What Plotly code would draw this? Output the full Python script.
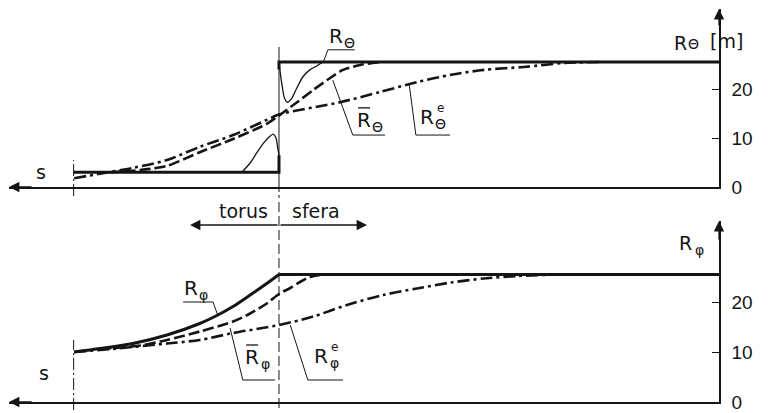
import plotly.graph_objects as go

# the page body keeps its 8px margin, so the figure is 8px smaller and all
# pixel placements below are given in window pixels and shifted by OFF
OFF = 8
W, H = 768 - OFF, 413 - OFF
INK = "#151515"
FONT = "DejaVu Sans"

# meridian coordinate s [m], counted leftwards from the R axis; radii R [m]
s_start = 132.0      # left end of the torus part
s_joint = 90.0       # torus | sphere junction
R_sph = 25.5         # sphere radius

# ---- upper panel: R_theta ----
s_Rt = [132.0, 90.0, 90.0, None, 90.0, 90.0, 0.0]
Rt = [3.0, 3.0, 6.5, None, 24.0, 25.5, 25.5]
s_Rt_lo = [97.6, 95.9, 94.6, 93.2, 91.8, 91.2, 90.6, 90.3, 90.0]
Rt_lo = [3.0, 4.9, 6.9, 8.9, 10.4, 10.8, 10.0, 8.2, 6.5]
s_Rt_hi = [90.0, 89.7, 89.3, 88.9, 88.3, 87.4, 86.4, 85.1, 83.7, 82.3, 81.0]
Rt_hi = [25.5, 23.0, 20.3, 18.2, 17.3, 18.1, 20.1, 22.5, 23.9, 24.7, 25.5]
s_Rt_bar = [124.6, 119.9, 116.4, 112.9, 106.2, 99.4, 92.5, 90.0, 86.3, 83.0, 79.6, 76.9, 73.4, 69.3]
Rt_bar = [3.0, 3.3, 3.7, 4.3, 7.1, 9.8, 12.9, 14.6, 17.3, 19.8, 22.2, 23.9, 24.9, 25.5]
s_Rt_e = [131.9, 126.6, 119.9, 112.9, 106.2, 99.4, 92.5, 90.0, 77.5, 69.3, 61.8, 54.8, 48.1, 39.9, 31.7, 24.3]
Rt_e = [1.8, 2.7, 3.9, 5.5, 8.2, 10.6, 13.7, 14.8, 17.3, 19.4, 21.4, 22.9, 23.9, 24.5, 25.3, 25.5]

# ---- lower panel: R_phi ----
s_Rp = [131.9, 126.6, 119.9, 112.9, 106.2, 102.7, 99.4, 95.9, 92.5, 90.0]
Rp = [10.0, 10.7, 11.7, 13.4, 15.7, 17.3, 19.1, 21.4, 23.7, 25.5]
s_Rp_sph = [90.0, 0.0]
Rp_sph = [25.5, 25.5]
s_Rp_bar = [126.6, 118.4, 112.9, 106.2, 99.4, 95.9, 92.5, 90.0, 87.7, 85.7, 83.7, 81.6, 79.6]
Rp_bar = [10.6, 11.3, 12.4, 14.1, 16.1, 17.7, 19.7, 21.6, 22.8, 24.0, 25.0, 25.4, 25.5]
s_Rp_e = [131.9, 126.6, 119.9, 112.9, 106.2, 99.4, 90.0, 83.0, 76.1, 68.7, 61.8, 54.8, 48.1, 41.3, 32.5]
Rp_e = [10.0, 10.4, 11.0, 11.7, 12.4, 13.8, 15.4, 17.1, 19.4, 21.4, 22.7, 23.9, 24.7, 25.2, 25.5]

y_ticks = [0, 10, 20]

# label anchors (s, R) and leader polylines
lab_Rt = (78.3, 30.8); lead_Rt = ([81.0, 80.0, 74.5], [25.3, 28.0, 28.0])
lab_Rt_bar = (72.6, 13.7); lead_Rt_bar = ([79.0, 74.9, 68.3], [21.8, 10.6, 10.6])
lab_Rt_e = (59.7, 14.3); lead_Rt_e = ([63.4, 62.0, 55.0], [21.2, 10.6, 10.6])
lab_Rp = (108.0, 22.9); lead_Rp = ([109.6, 103.5, 102.5], [20.0, 20.0, 17.3])
lab_Rp_bar = (95.5, 9.0); lead_Rp_bar = ([100.0, 97.4, 90.8], [14.8, 4.4, 4.4])
lab_Rp_e = (81.4, 9.2); lead_Rp_e = ([87.7, 84.1, 76.9], [15.4, 4.4, 4.4])


def px(p):
    return (p - OFF) / W


def py(p):
    return 1 - (p - OFF) / H


fig = go.Figure()


def line(x, y, axes, width=3, dash="solid", shape="spline"):
    fig.add_trace(go.Scatter(
        x=x, y=y, xaxis=axes[0], yaxis=axes[1], mode="lines",
        line=dict(color=INK, width=width, dash=dash, shape=shape, smoothing=0.8),
        hoverinfo="skip", showlegend=False))


TOP, BOT = ("x", "y"), ("x2", "y2")
DASH = "11px,4px"
DASHDOT = "12px,4px,3px,4px"

line(s_Rt, Rt, TOP, shape="linear")
line(s_Rt_lo, Rt_lo, TOP, width=1.3)
line(s_Rt_hi, Rt_hi, TOP, width=1.3)
line(s_Rt_bar, Rt_bar, TOP, width=2.6, dash=DASH)
line(s_Rt_e, Rt_e, TOP, width=2.6, dash=DASHDOT)

line(s_Rp, Rp, BOT)
line(s_Rp_sph, Rp_sph, BOT, shape="linear")
line(s_Rp_bar, Rp_bar, BOT, width=2.6, dash=DASH)
line(s_Rp_e, Rp_e, BOT, width=2.6, dash=DASHDOT)

for lead, ax in [(lead_Rt, TOP), (lead_Rt_bar, TOP), (lead_Rt_e, TOP),
                 (lead_Rp, BOT), (lead_Rp_bar, BOT), (lead_Rp_e, BOT)]:
    line(lead[0], lead[1], ax, width=1, shape="linear")

annotations = []
shapes = []


def symbol(pos, yref, sub, sup=None, bar=False):
    s, R = pos
    base = dict(x=s, y=R, xref="x", yref=yref, showarrow=False)
    annotations.append(dict(base, text="R", font=dict(family=FONT, size=20, color=INK)))
    annotations.append(dict(base, text=sub, xshift=13, yshift=-7,
                            font=dict(family=FONT, size=14, color=INK)))
    if sup:
        annotations.append(dict(base, text=sup, xshift=13, yshift=9,
                                font=dict(family=FONT, size=12, color=INK)))
    if bar:
        shapes.append(dict(type="line", xref="x", yref=yref, xsizemode="pixel", ysizemode="pixel",
                           xanchor=s, yanchor=R, x0=-6, x1=6, y0=12, y1=12,
                           line=dict(color=INK, width=1.3)))


symbol(lab_Rt, "y", "\u0398")
symbol(lab_Rt_bar, "y", "\u0398", bar=True)
symbol(lab_Rt_e, "y", "\u0398", sup="e")
symbol(lab_Rp, "y2", "\u03c6")
symbol(lab_Rp_bar, "y2", "\u03c6", bar=True)
symbol(lab_Rp_e, "y2", "\u03c6", sup="e")

# junction divider and left edge markers
shapes += [
    dict(type="line", xref="x", yref="paper", x0=s_joint, x1=s_joint, y0=py(192), y1=py(47),
         line=dict(color=INK, width=1)),
    dict(type="line", xref="x", yref="paper", x0=s_joint, x1=s_joint, y0=py(408), y1=py(195),
         line=dict(color=INK, width=1, dash="10px,4px")),
    dict(type="line", xref="x", yref="paper", x0=s_start, x1=s_start, y0=py(196), y1=py(160),
         line=dict(color=INK, width=1, dash="12px,3px,2px,3px")),
    dict(type="line", xref="x", yref="paper", x0=s_start, x1=s_start, y0=py(410), y1=py(340),
         line=dict(color=INK, width=1, dash="12px,3px,2px,3px")),
]

txt = dict(family=FONT, size=19, color=INK)
arrow = dict(showarrow=True, arrowhead=2, arrowsize=1.6, arrowwidth=1.3, arrowcolor=INK, text="")

annotations += [
    # torus | sfera
    dict(x=s_joint, y=py(211), xref="x", yref="paper", text="torus", xanchor="right",
         xshift=-9, showarrow=False, font=txt),
    dict(x=s_joint, y=py(211), xref="x", yref="paper", text="sfera", xanchor="left",
         xshift=11, showarrow=False, font=txt),
    dict(arrow, x=px(190), y=py(225), xref="paper", yref="paper", ax=89, ay=0),
    dict(arrow, x=px(367), y=py(225), xref="paper", yref="paper", ax=-88, ay=0),
    # s axes
    dict(arrow, x=px(9), y=0, xref="paper", yref="y", ax=24, ay=0),
    dict(arrow, x=px(9), y=0, xref="paper", yref="y2", ax=24, ay=0),
    dict(x=px(34), y=py(172), xref="paper", yref="paper", text="s", showarrow=False,
         font=dict(family=FONT, size=19, color=INK)),
    dict(x=px(37), y=py(386), xref="paper", yref="paper", text="s", showarrow=False,
         font=dict(family=FONT, size=19, color=INK)),
    # R axes
    dict(arrow, x=px(719), y=py(9), xref="paper", yref="paper", ax=0, ay=18),
    dict(arrow, x=px(719), y=py(221), xref="paper", yref="paper", ax=0, ay=20),
    dict(x=px(689), y=py(30), xref="paper", yref="paper", text="R", showarrow=False,
         font=dict(family=FONT, size=19, color=INK)),
    dict(x=px(701), y=py(34), xref="paper", yref="paper", text="\u0398", showarrow=False,
         font=dict(family=FONT, size=14, color=INK)),
    dict(x=px(745), y=py(28), xref="paper", yref="paper", text="[m]", showarrow=False,
         font=dict(family=FONT, size=19, color=INK)),
    dict(x=px(694), y=py(243), xref="paper", yref="paper", text="R", showarrow=False,
         font=dict(family=FONT, size=19, color=INK)),
    dict(x=px(706), y=py(250), xref="paper", yref="paper", text="\u03c6", showarrow=False,
         font=dict(family=FONT, size=14, color=INK)),
]

xa = dict(showgrid=False, zeroline=False, showline=True, linecolor=INK, linewidth=1.5,
          showticklabels=False, ticks="", automargin=False,
          domain=[px(9), px(719)], range=[(719 - 9) / 4.889, 0])
ya = dict(showgrid=False, zeroline=False, showline=True, linecolor=INK, linewidth=1.5,
          side="right", tickvals=y_ticks, ticks="inside", ticklen=7, tickwidth=1.2,
          tickcolor=INK, ticklabelstandoff=7, automargin=False,
          tickfont=dict(family="Liberation Sans", size=19, color=INK))

fig.update_layout(
    width=W, height=H,
    margin=dict(l=0, r=0, t=0, b=0, autoexpand=False),
    paper_bgcolor="white", plot_bgcolor="white",
    xaxis=dict(xa, anchor="y"),
    yaxis=dict(ya, anchor="x", domain=[py(187), py(9)], range=[0, (187 - 9) / 4.9]),
    xaxis2=dict(xa, anchor="y2"),
    yaxis2=dict(ya, anchor="x2", domain=[py(402), py(221)], range=[0, (402 - 221) / 5.0]),
    annotations=annotations,
    shapes=shapes,
)

fig.write_html("out.html")
